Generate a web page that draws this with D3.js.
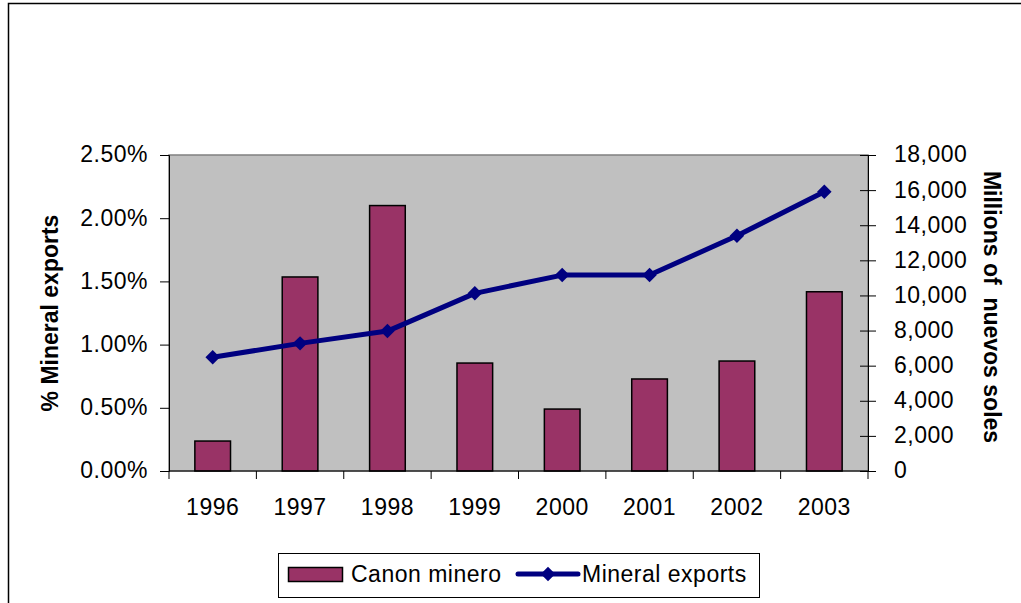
<!DOCTYPE html>
<html>
<head>
<meta charset="utf-8">
<script src="https://cdn.jsdelivr.net/npm/d3@7"></script>
<style>
  body { margin: 0; background: #fff; }
  svg text { font-family: "Liberation Sans", Arial, sans-serif; }
  .lab { letter-spacing: 0.5px; }
</style>
</head>
<body>
<svg id="chart" width="1021" height="603"></svg>
<script>
// data
const years = ['1996', '1997', '1998', '1999', '2000', '2001', '2002', '2003'];
const canonMinero = [0.237, 1.535, 2.10, 0.854, 0.49, 0.728, 0.87, 1.418]; // % of mineral exports
const mineralExports = [6480, 7270, 7970, 10120, 11160, 11160, 13400, 15910]; // millions of nuevos soles
const leftTicks = [0, 0.5, 1.0, 1.5, 2.0, 2.5];
const rightTicks = [0, 2000, 4000, 6000, 8000, 10000, 12000, 14000, 16000, 18000];

const svg = d3.select('#chart');
const margin = { top: 155, left: 169 };
const width = 699, height = 316;

// outer frame (right and bottom edges fall outside the picture)
svg.append('rect')
  .attr('x', 8.5).attr('y', 3.5)
  .attr('width', 1100).attr('height', 700)
  .attr('fill', 'none').attr('stroke', '#000').attr('stroke-width', 1.5);

const g = svg.append('g').attr('transform', `translate(${margin.left},${margin.top})`);

const x = d3.scaleBand().domain(years).range([0, width]).paddingInner(0).paddingOuter(0);
const yL = d3.scaleLinear().domain([0, 2.5]).range([height, 0]);
const yR = d3.scaleLinear().domain([0, 18000]).range([height, 0]);

// plot area
g.append('rect')
  .attr('width', width).attr('height', height)
  .attr('fill', '#c0c0c0').attr('stroke', '#808080').attr('stroke-width', 1.5);

// bars
const barW = x.bandwidth() / 2.45;
g.selectAll('.bar')
  .data(canonMinero)
  .enter()
  .append('rect')
  .attr('class', 'bar')
  .attr('x', (d, i) => x(years[i]) + x.bandwidth() / 2 - barW / 2)
  .attr('y', (d) => yL(d))
  .attr('width', barW)
  .attr('height', (d) => height - yL(d))
  .attr('fill', '#993366')
  .attr('stroke', '#000')
  .attr('stroke-width', 1.5);

// line
const line = d3.line()
  .x((d, i) => x(years[i]) + x.bandwidth() / 2)
  .y((d) => yR(d));

g.append('path')
  .attr('d', line(mineralExports))
  .attr('fill', 'none')
  .attr('stroke', '#000080')
  .attr('stroke-width', 5)
  .attr('stroke-linejoin', 'round');

const diamond = d3.symbol().type(d3.symbolSquare).size(105);
g.selectAll('.pt')
  .data(mineralExports)
  .enter()
  .append('path')
  .attr('class', 'pt')
  .attr('d', diamond)
  .attr('transform', (d, i) => `translate(${x(years[i]) + x.bandwidth() / 2},${yR(d)}) rotate(45)`)
  .attr('fill', '#000080');

// left axis
const axL = g.append('g')
  .call(d3.axisLeft(yL).tickValues(leftTicks).tickSize(9).tickPadding(12)
    .tickFormat((d) => d3.format('.2f')(d) + '%'));
axL.select('.domain').attr('stroke', '#000').attr('stroke-width', 1);
axL.selectAll('.tick line').attr('stroke', '#000');
axL.selectAll('.tick text')
  .attr('class', 'lab')
  .attr('font-size', 23).attr('dy', '0.3em').attr('fill', '#000')
  .attr('font-family', '"Liberation Sans", Arial, sans-serif');

// right axis (ticks cross the axis line)
const axR = g.append('g')
  .attr('transform', `translate(${width},0)`)
  .call(d3.axisRight(yR).tickValues(rightTicks).tickSize(8).tickPadding(18)
    .tickFormat(d3.format(',')));
axR.select('.domain').attr('stroke', '#000').attr('stroke-width', 1);
axR.selectAll('.tick line').attr('x1', -8).attr('stroke', '#000');
axR.selectAll('.tick text')
  .attr('class', 'lab')
  .attr('font-size', 23).attr('dy', '0.3em').attr('fill', '#000')
  .attr('font-family', '"Liberation Sans", Arial, sans-serif');

// bottom axis: ticks between categories, labels centred
const axB = g.append('g').attr('transform', `translate(0,${height})`);
axB.append('line').attr('x1', 0).attr('x2', width).attr('stroke', '#000');
axB.selectAll('.tk')
  .data(years.concat(['end']))
  .enter()
  .append('line')
  .attr('x1', (d, i) => i * x.step()).attr('x2', (d, i) => i * x.step())
  .attr('y1', 0).attr('y2', 8)
  .attr('stroke', '#000');
axB.selectAll('.lbl')
  .data(years)
  .enter()
  .append('text')
  .attr('class', 'lab')
  .attr('x', (d) => x(d) + x.bandwidth() / 2)
  .attr('y', 44)
  .attr('text-anchor', 'middle')
  .attr('font-size', 23)
  .text((d) => d);

// axis titles
svg.append('text')
  .attr('transform', `translate(58,${margin.top + height / 2}) rotate(-90)`)
  .attr('text-anchor', 'middle')
  .attr('font-size', 23)
  .attr('font-weight', 'bold')
  .text('% Mineral exports');

svg.append('text')
  .attr('transform', `translate(984,${margin.top + height / 2 - 6}) rotate(90)`)
  .attr('text-anchor', 'middle')
  .attr('font-size', 23)
  .attr('font-weight', 'bold')
  .style('white-space', 'pre')
  .text('Millions of  nuevos soles');

// legend
const legend = svg.append('g');
legend.append('rect')
  .attr('x', 278.5).attr('y', 553.5).attr('width', 481).attr('height', 44)
  .attr('fill', '#fff').attr('stroke', '#000').attr('stroke-width', 1);
legend.append('rect')
  .attr('x', 288.5).attr('y', 567.5).attr('width', 54).attr('height', 14)
  .attr('fill', '#993366').attr('stroke', '#000').attr('stroke-width', 1.5);
legend.append('text')
  .attr('class', 'lab')
  .attr('x', 351).attr('y', 582).attr('font-size', 23).text('Canon minero');
legend.append('line')
  .attr('x1', 518).attr('x2', 578).attr('y1', 574).attr('y2', 574)
  .attr('stroke', '#000080').attr('stroke-width', 5).attr('stroke-linecap', 'round');
legend.append('path')
  .attr('d', diamond)
  .attr('transform', 'translate(548,574) rotate(45)')
  .attr('fill', '#000080');
legend.append('text')
  .attr('class', 'lab')
  .attr('x', 582).attr('y', 582).attr('font-size', 23).text('Mineral exports');
</script>
</body>
</html>
